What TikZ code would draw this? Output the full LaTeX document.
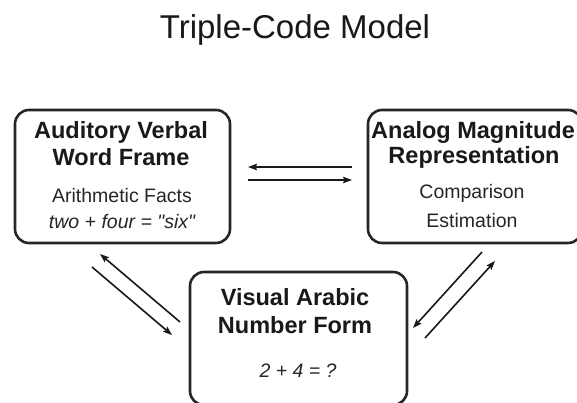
\documentclass[tikz,border=0pt]{standalone}
\usepackage{fontspec}
\setmainfont{Liberation Sans}
\usetikzlibrary{arrows.meta}
\tikzset{
  box/.style={draw=black!85, line width=2.6pt, rounded corners=14pt, inner sep=0pt},
  head/.style={anchor=base, inner sep=0pt, font=\fontsize{23.5}{27}\selectfont\bfseries, text=black!90},
  body/.style={anchor=base, inner sep=0pt, font=\fontsize{19.5}{23}\selectfont, text=black!85},
  conn/.style={line width=1.6pt, draw=black!90, -{Stealth[length=9pt,width=6.5pt,inset=1.5pt]}},
}
\begin{document}
\begin{tikzpicture}[x=1pt,y=-1pt]
\clip (0,0) rectangle (577,402);
\fill[white] (0,0) rectangle (577,402);
% title
\node[anchor=base, inner sep=0pt, font=\fontsize{33}{37}\selectfont, text=black!90] (title) at (295,38) {Triple-Code Model};
% boxes
\node[box, minimum width=215pt, minimum height=133pt] (avw) at (122.5,176.5) {};
\node[box, minimum width=214pt, minimum height=133pt] (amr) at (475,176.5) {};
\node[box, minimum width=217pt, minimum height=133pt] (van) at (298.5,338.5) {};
% texts
\node[head] (avw1) at (121,138) {Auditory Verbal};
\node[head] (avw2) at (121,165) {Word Frame};
\node[body] (avw3) at (122,202) {Arithmetic Facts};
\node[body] (avw4) at (122,228) {\itshape two + four = \textquotedbl six\textquotedbl};
\node[head] (amr1) at (473,138) {Analog Magnitude};
\node[head] (amr2) at (474,163) {Representation};
\node[body] (amr3) at (472,198) {Comparison};
\node[body] (amr4) at (472,227) {Estimation};
\node[head] (van1) at (295,305) {Visual Arabic};
\node[head] (van2) at (295,333) {Number Form};
\node[body] (van3) at (298,377) {\itshape 2 + 4 = ?};
% connector end points
\coordinate (h1a) at (352,167); \coordinate (h1b) at (248,167);
\coordinate (h2a) at (248,180); \coordinate (h2b) at (352,180);
\coordinate (l1a) at (180,322); \coordinate (l1b) at (100,254);
\coordinate (l2a) at (92,267);  \coordinate (l2b) at (172,335);
\coordinate (r1a) at (482,252); \coordinate (r1b) at (413,328);
\coordinate (r2a) at (425,338); \coordinate (r2b) at (495,261);
\draw[conn] (h1a) -- (h1b);
\draw[conn] (h2a) -- (h2b);
\draw[conn] (l1a) -- (l1b);
\draw[conn] (l2a) -- (l2b);
\draw[conn] (r1a) -- (r1b);
\draw[conn] (r2a) -- (r2b);
\end{tikzpicture}
\end{document}
